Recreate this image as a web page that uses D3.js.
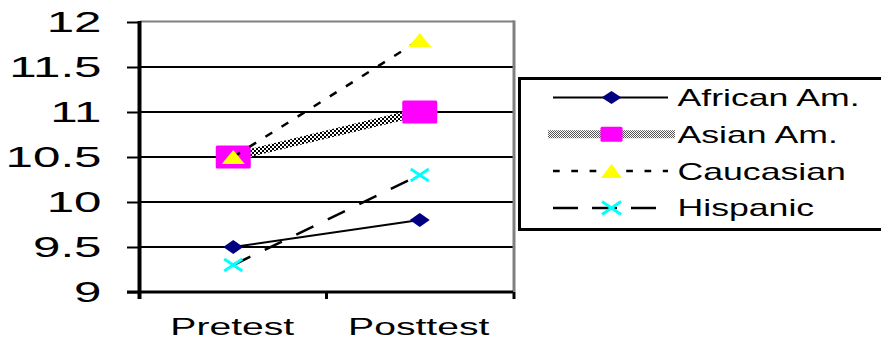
<!DOCTYPE html>
<html>
<head>
<meta charset="utf-8">
<script src="https://cdn.jsdelivr.net/npm/d3@7"></script>
<style>
  html, body { margin: 0; padding: 0; background: #fff; }
  svg { display: block; }
  text { font-family: "Liberation Sans", Arial, sans-serif; fill: #000; }
</style>
</head>
<body>
<svg id="chart" width="881" height="343"></svg>
<script>
// ---- data ----
const categories = ["Pretest", "Posttest"];
const seriesNames = ["African Am.", "Asian Am.", "Caucasian", "Hispanic"];
const africanAm = [9.5, 9.8];
const asianAm = [10.5, 11.0];
const caucasian = [10.5, 11.8];
const hispanic = [9.3, 10.3];
const yTicks = [9, 9.5, 10, 10.5, 11, 11.5, 12];
const yTickLabels = ["9", "9.5", "10", "10.5", "11", "11.5", "12"];

const seriesValues = [africanAm, asianAm, caucasian, hispanic];

// ---- styles ----
const styles = [
  { marker: "diamond", fill: "#000080", stroke: "#000", width: 2, dash: null, pw: 20, ph: 14, lw: 20, lh: 13, ldash: null },
  { marker: "square", fill: "#FF00FF", stroke: "url(#chk)", width: 8, dash: null, pw: 35, ph: 23, lw: 22, lh: 15, lstroke: "url(#chk1)", ldash: null },
  { marker: "triangle", fill: "#FFFF00", stroke: "#000", width: 2.5, dash: "8,11", pw: 23, ph: 14, lw: 21, lh: 14, ldash: "6.7,11.6" },
  { marker: "x", fill: "#00FFFF", stroke: "#000", width: 2.5, dash: "19,16", pw: 18, ph: 12, lw: 19, lh: 13, ldash: "25,14" }
];

const svg = d3.select("#chart");

const defs = svg.append("defs");
const p2 = defs.append("pattern").attr("id", "chk").attr("width", 4).attr("height", 4).attr("patternUnits", "userSpaceOnUse");
p2.append("rect").attr("width", 4).attr("height", 4).attr("fill", "#fff");
p2.append("rect").attr("width", 2).attr("height", 2).attr("fill", "#000");
p2.append("rect").attr("x", 2).attr("y", 2).attr("width", 2).attr("height", 2).attr("fill", "#000");
const p1 = defs.append("pattern").attr("id", "chk1").attr("width", 2).attr("height", 2).attr("patternUnits", "userSpaceOnUse");
p1.append("rect").attr("width", 2).attr("height", 2).attr("fill", "#fff");
p1.append("rect").attr("width", 1).attr("height", 1).attr("fill", "#555");
p1.append("rect").attr("x", 1).attr("y", 1).attr("width", 1).attr("height", 1).attr("fill", "#555");

// ---- scales ----
const plotL = 140, plotR = 513, plotT = 22, plotB = 292;
const x = d3.scaleBand().domain(categories).range([plotL, plotR]).padding(0);
const y = d3.scaleLinear().domain([9, 12]).range([plotB, plotT]);
const cx = c => x(c) + x.bandwidth() / 2;

// ---- gridlines ----
svg.append("g").selectAll("line")
  .data(yTicks.filter(t => t > 9 && t < 12))
  .join("line")
  .attr("x1", plotL).attr("x2", plotR)
  .attr("y1", d => y(d)).attr("y2", d => y(d))
  .attr("stroke", "#000").attr("stroke-width", 2);

// plot border (top & right, gray)
svg.append("line").attr("x1", plotL).attr("x2", plotR + 1.5).attr("y1", y(12) - 0.5).attr("y2", y(12) - 0.5)
  .attr("stroke", "#808080").attr("stroke-width", 2);
svg.append("line").attr("x1", plotR + 1).attr("x2", plotR + 1).attr("y1", y(12) - 1.5).attr("y2", plotB)
  .attr("stroke", "#808080").attr("stroke-width", 3);

// ---- y axis ----
const yAxis = d3.axisLeft(y).tickValues(yTicks).tickSize(13).tickFormat((d, i) => yTickLabels[i]);
const gy = svg.append("g").attr("transform", `translate(${plotL},0)`).call(yAxis);
gy.select(".domain").remove();
gy.selectAll(".tick line").attr("stroke", "#000").attr("stroke-width", 2);
gy.selectAll(".tick text")
  .attr("x", 0).attr("dy", null).attr("y", 0)
  .attr("text-anchor", "end")
  .attr("font-size", 29)
  .attr("font-family", "Liberation Sans, Arial, sans-serif")
  .attr("transform", "translate(-38.5,9) scale(1.7,1)");
svg.append("line").attr("x1", plotL - 0.5).attr("x2", plotL - 0.5).attr("y1", plotT - 1).attr("y2", plotB + 7)
  .attr("stroke", "#000").attr("stroke-width", 4);

// ---- x axis ----
const xAxis = d3.axisBottom(x).tickSize(0).tickPadding(0);
const gx = svg.append("g").attr("transform", `translate(0,${plotB})`).call(xAxis);
gx.select(".domain").remove();
gx.selectAll(".tick text")
  .attr("y", 0).attr("dy", null)
  .attr("text-anchor", "middle")
  .attr("font-size", 24)
  .attr("font-family", "Liberation Sans, Arial, sans-serif")
  .attr("transform", "translate(-1,43) scale(1.63,1)");
svg.append("line").attr("x1", plotL - 13).attr("x2", plotR).attr("y1", plotB).attr("y2", plotB)
  .attr("stroke", "#000").attr("stroke-width", 3);
const bounds = [plotL].concat(categories.map(c => x(c) + x.bandwidth()));
svg.append("g").selectAll("line").data(bounds.slice(1)).join("line")
  .attr("x1", d => d === plotR ? d + 1 : d).attr("x2", d => d === plotR ? d + 1 : d)
  .attr("y1", plotB).attr("y2", plotB + 7)
  .attr("stroke", "#000").attr("stroke-width", 3);

// ---- marker drawing ----
function drawMarker(g, type, px, py, w, h, fill) {
  const hw = w / 2, hh = h / 2;
  if (type === "diamond") {
    g.append("path").attr("d", `M${px - hw},${py}L${px},${py - hh}L${px + hw},${py}L${px},${py + hh}Z`).attr("fill", fill);
  } else if (type === "square") {
    g.append("rect").attr("x", px - hw).attr("y", py - hh).attr("width", w).attr("height", h).attr("rx", 1.5).attr("fill", fill);
  } else if (type === "triangle") {
    g.append("path").attr("d", `M${px},${py - hh}L${px + hw},${py + hh}L${px - hw},${py + hh}Z`).attr("fill", fill);
  } else if (type === "x") {
    g.append("path").attr("d", `M${px - hw},${py - hh}L${px + hw},${py + hh}M${px - hw},${py + hh}L${px + hw},${py - hh}`)
      .attr("stroke", fill).attr("stroke-width", 3).attr("fill", "none");
  }
}

// ---- series ----
const line = d3.line().x((d, i) => cx(categories[i])).y(d => y(d));
seriesValues.forEach((vals, si) => {
  const st = styles[si];
  const g = svg.append("g");
  g.append("path").datum(vals).attr("d", line)
    .attr("fill", "none").attr("stroke", st.stroke).attr("stroke-width", st.width)
    .attr("stroke-dasharray", st.dash);
  vals.forEach((v, i) => drawMarker(g, st.marker, cx(categories[i]), y(v), st.pw, st.ph, st.fill));
});

// ---- legend ----
const lg = svg.append("g");
lg.append("rect").attr("x", 519.5).attr("y", 78.5).attr("width", 400).attr("height", 151)
  .attr("fill", "none").attr("stroke", "#000").attr("stroke-width", 3);
seriesNames.forEach((name, i) => {
  const st = styles[i];
  const ly = 97.5 + i * 36.8;
  const x1 = st.marker === "square" ? 548 : 553;
  const x2 = st.marker === "square" ? 675 : 668;
  lg.append("line").attr("x1", x1).attr("x2", x2).attr("y1", ly).attr("y2", ly)
    .attr("stroke", st.lstroke || st.stroke).attr("stroke-width", st.width)
    .attr("stroke-dasharray", st.ldash);
  drawMarker(lg, st.marker, 611.5, ly, st.lw, st.lh, st.fill);
  lg.append("text").attr("x", 0).attr("y", 0)
    .attr("font-size", 23)
    .attr("transform", `translate(677.5,${ly + 8.5}) scale(1.55,1)`)
    .text(name);
});
</script>
</body>
</html>
